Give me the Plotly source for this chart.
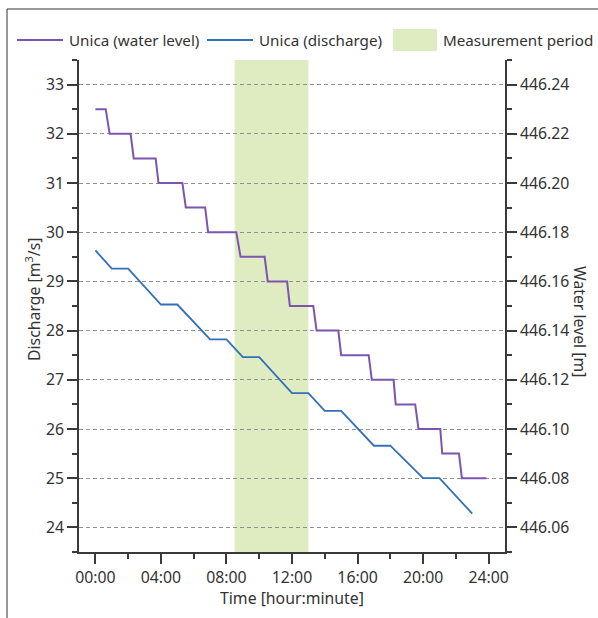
import plotly.graph_objects as go

# ---------------- data ----------------
# Water level (m) – step series, times in hours
wl_time = [0.00, 0.63, 0.87, 2.15, 2.34, 3.68, 3.85, 5.31, 5.52, 6.70, 6.88, 8.60,
           8.86, 10.33, 10.52, 11.70, 11.87, 13.30, 13.50, 14.83, 15.00, 16.68,
           16.87, 18.20, 18.33, 19.52, 19.72, 21.05, 21.17, 22.19, 22.37, 23.86]
wl_level = [446.23, 446.23, 446.22, 446.22, 446.21, 446.21, 446.20, 446.20,
            446.19, 446.19, 446.18, 446.18, 446.17, 446.17, 446.16, 446.16,
            446.15, 446.15, 446.14, 446.14, 446.13, 446.13, 446.12, 446.12,
            446.11, 446.11, 446.10, 446.10, 446.09, 446.09, 446.08, 446.08]

# Discharge (m3/s)
q_time = [0, 1, 2, 4, 5, 7, 8, 9, 10, 12, 13, 14, 15, 17, 18, 20, 21, 23]
q_value = [29.63, 29.26, 29.26, 28.53, 28.53, 27.82, 27.82, 27.46, 27.46,
           26.73, 26.73, 26.37, 26.37, 25.66, 25.66, 25.00, 25.00, 24.28]

# Measurement period (hours)
meas_start, meas_end = 8.5, 13.0

x_tickvals = [0, 4, 8, 12, 16, 20, 24]
x_ticktext = ["00:00", "04:00", "08:00", "12:00", "16:00", "20:00", "24:00"]

names = ["Unica (water level)", "Unica (discharge)", "Measurement period"]

# ---------------- style ----------------
W, H = 598, 618
L, R, T, B = 79, 505, 60, 552          # plot area in pixels
PURPLE = "#7D55B0"
BLUE = "#3470B8"
GREEN = "#DFEBC1"
AX = "#3a3a3a"
TXT = "#333333"
FONT = "Noto Sans"
FS = 15.8
LFS = 15.2


def px(xp):
    return (xp - L) / (R - L)


def py(yp):
    return (B - yp) / (B - T)


fig = go.Figure()
fig.add_trace(go.Scatter(x=q_time, y=q_value, mode="lines", name=names[1],
                         line=dict(color=BLUE, width=1.8), yaxis="y",
                         showlegend=False))
fig.add_trace(go.Scatter(x=wl_time, y=wl_level, mode="lines", name=names[0],
                         line=dict(color=PURPLE, width=2), yaxis="y2",
                         showlegend=False))

shapes = [
    dict(type="rect", xref="x", yref="paper", x0=meas_start, x1=meas_end,
         y0=0, y1=1, fillcolor=GREEN, line=dict(width=0), layer="below"),
    # outer frame (top and left)
    dict(type="line", xref="paper", yref="paper", x0=px(7), x1=px(598),
         y0=py(9), y1=py(9), line=dict(color=TXT, width=1)),
    dict(type="line", xref="paper", yref="paper", x0=px(7), x1=px(7),
         y0=py(9), y1=py(618), line=dict(color=TXT, width=1)),
    # legend symbols
    dict(type="line", xref="paper", yref="paper", x0=px(17), x1=px(63),
         y0=py(40), y1=py(40), line=dict(color=PURPLE, width=2)),
    dict(type="line", xref="paper", yref="paper", x0=px(207), x1=px(253),
         y0=py(40), y1=py(40), line=dict(color=BLUE, width=2)),
    dict(type="rect", xref="paper", yref="paper", x0=px(393), x1=px(437),
         y0=py(51), y1=py(29), fillcolor=GREEN, line=dict(width=0)),
]

lf = dict(family=FONT, size=LFS, color=TXT)
annotations = [
    dict(text=names[0], x=px(67), y=py(40), xref="paper", yref="paper",
         xanchor="left", yanchor="middle", showarrow=False, font=lf),
    dict(text=names[1], x=px(257), y=py(40), xref="paper", yref="paper",
         xanchor="left", yanchor="middle", showarrow=False, font=lf),
    dict(text=names[2], x=px(441), y=py(40), xref="paper", yref="paper",
         xanchor="left", yanchor="middle", showarrow=False, font=lf),
    dict(text="Discharge [m<sup>3</sup>/s]", textangle=-90, x=px(33), y=py(300),
         xref="paper", yref="paper", xanchor="center", yanchor="middle",
         showarrow=False),
    dict(text="Water level [m]", textangle=90, x=px(580), y=py(321),
         xref="paper", yref="paper", xanchor="center", yanchor="middle",
         showarrow=False),
    dict(text="Time [hour:minute]", x=0.5, y=py(598), xref="paper",
         yref="paper", xanchor="center", yanchor="middle", showarrow=False),
]

axis_common = dict(showline=True, linecolor=AX, linewidth=1.5, ticks="outside",
                   ticklen=10, tickwidth=1.5, tickcolor=AX, zeroline=False,
                   tickfont=dict(family=FONT, size=FS, color=TXT))

fig.update_layout(
    width=W, height=H, autosize=False,
    margin=dict(l=L, r=W - R, t=T, b=H - B),
    paper_bgcolor="white", plot_bgcolor="white",
    font=dict(family=FONT, size=FS, color=TXT),
    showlegend=False,
    shapes=shapes, annotations=annotations,
    xaxis=dict(range=[-1, 25], tickmode="array", tickvals=x_tickvals,
               ticktext=x_ticktext, showgrid=False,
               minor=dict(dtick=2, tick0=0, ticks="outside", ticklen=5,
                          tickwidth=1.5, tickcolor=AX),
               **axis_common),
    yaxis=dict(range=[23.5, 33.5], dtick=1, tick0=0, showgrid=True,
               gridcolor="#8f8f8f", gridwidth=1, griddash="4px,3px",
               minor=dict(dtick=0.5, tick0=0, ticks="outside", ticklen=5,
                          tickwidth=1.5, tickcolor=AX, showgrid=False),
               **axis_common),
    yaxis2=dict(range=[446.05, 446.25], overlaying="y", side="right",
                tickmode="array",
                tickvals=[446.06, 446.08, 446.10, 446.12, 446.14, 446.16,
                          446.18, 446.20, 446.22, 446.24],
                tickformat=".2f", showgrid=False,
                minor=dict(dtick=0.01, tick0=446.05, ticks="outside",
                           ticklen=5, tickwidth=1.5, tickcolor=AX),
                **axis_common),
)

fig.write_html("out.html")
